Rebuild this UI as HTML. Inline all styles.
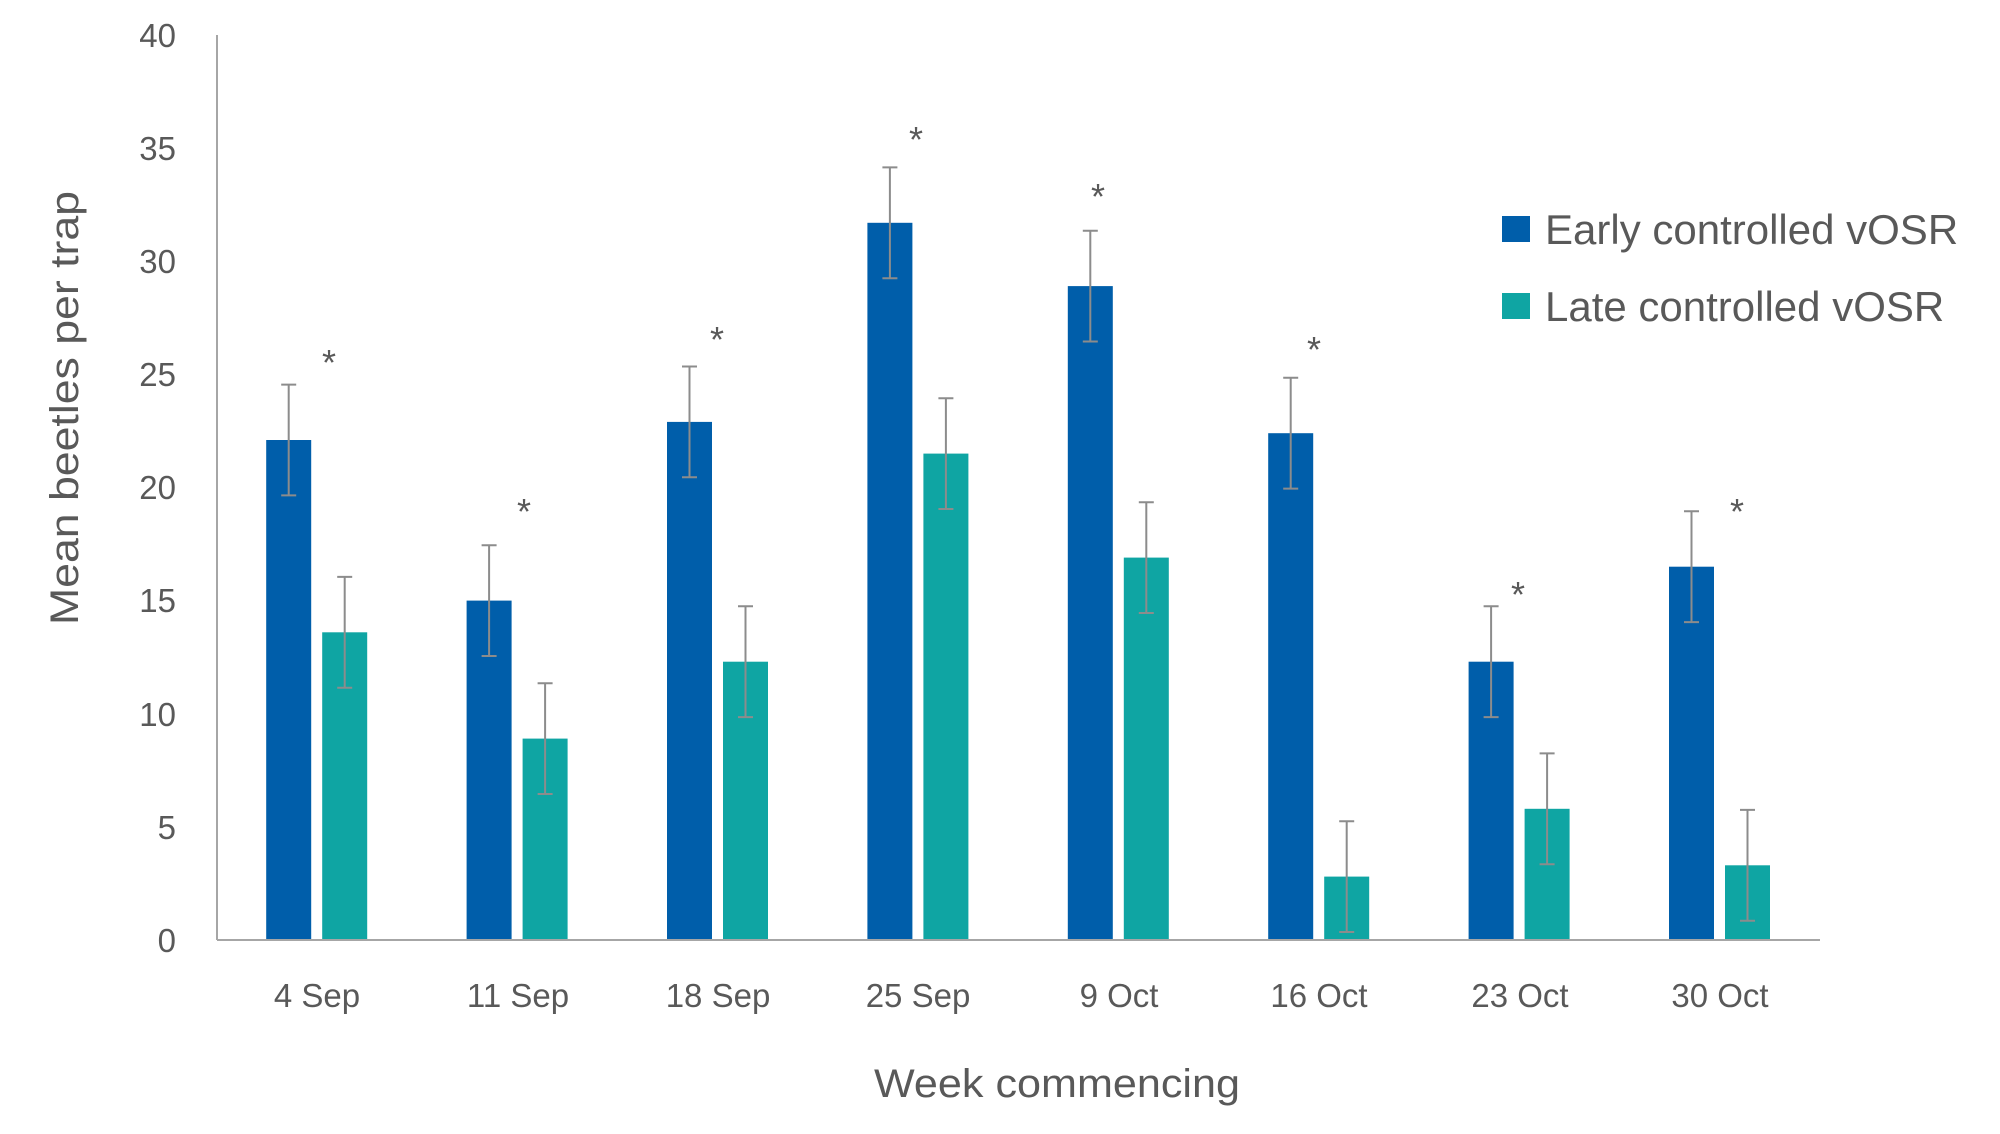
<!DOCTYPE html>
<html><head><meta charset="utf-8"><style>
html,body{margin:0;padding:0;background:#fff}
svg{display:block}
text{font-family:"Liberation Sans",sans-serif;fill:#595959}
</style></head><body>
<svg width="2000" height="1134" viewBox="0 0 2000 1134" xmlns="http://www.w3.org/2000/svg">
<g font-size="33" text-anchor="end">
<text x="176" y="952">0</text>
<text x="176" y="839">5</text>
<text x="176" y="726">10</text>
<text x="176" y="612">15</text>
<text x="176" y="499">20</text>
<text x="176" y="386">25</text>
<text x="176" y="273">30</text>
<text x="176" y="160">35</text>
<text x="176" y="47">40</text>
</g>
<line x1="217" y1="35" x2="217" y2="940" stroke="#a6a6a6" stroke-width="2"/>
<g fill="#005EAA">
<rect x="266.2" y="440.0" width="45" height="500.0"/>
<rect x="466.6" y="600.6" width="45" height="339.4"/>
<rect x="667" y="421.9" width="45" height="518.1"/>
<rect x="867.4" y="222.8" width="45" height="717.2"/>
<rect x="1067.8" y="286.1" width="45" height="653.9"/>
<rect x="1268.2" y="433.2" width="45" height="506.8"/>
<rect x="1468.6" y="661.7" width="45" height="278.3"/>
<rect x="1669" y="566.7" width="45" height="373.3"/>
</g>
<g fill="#0FA5A3">
<rect x="322.2" y="632.3" width="45" height="307.7"/>
<rect x="522.6" y="738.6" width="45" height="201.4"/>
<rect x="723" y="661.7" width="45" height="278.3"/>
<rect x="923.4" y="453.6" width="45" height="486.4"/>
<rect x="1123.8" y="557.6" width="45" height="382.4"/>
<rect x="1324.2" y="876.6" width="45" height="63.4"/>
<rect x="1524.6" y="808.8" width="45" height="131.2"/>
<rect x="1725" y="865.3" width="45" height="74.7"/>
</g>
<line x1="217" y1="940" x2="1820" y2="940" stroke="#a6a6a6" stroke-width="2"/>
<g stroke="#8c8c8c" stroke-width="2" fill="none">
<path d="M288.7 384.6V495.4M281.2 384.6h15M281.2 495.4h15"/>
<path d="M344.7 576.9V687.7M337.2 576.9h15M337.2 687.7h15"/>
<path d="M489.1 545.2V656M481.6 545.2h15M481.6 656h15"/>
<path d="M545.1 683.2V794M537.6 683.2h15M537.6 794h15"/>
<path d="M689.5 366.5V477.3M682 366.5h15M682 477.3h15"/>
<path d="M745.5 606.3V717.1M738 606.3h15M738 717.1h15"/>
<path d="M889.9 167.4V278.2M882.4 167.4h15M882.4 278.2h15"/>
<path d="M945.9 398.2V509M938.4 398.2h15M938.4 509h15"/>
<path d="M1090.3 230.7V341.5M1082.8 230.7h15M1082.8 341.5h15"/>
<path d="M1146.3 502.2V613M1138.8 502.2h15M1138.8 613h15"/>
<path d="M1290.7 377.8V488.6M1283.2 377.8h15M1283.2 488.6h15"/>
<path d="M1346.7 821.2V932M1339.2 821.2h15M1339.2 932h15"/>
<path d="M1491.1 606.3V717.1M1483.6 606.3h15M1483.6 717.1h15"/>
<path d="M1547.1 753.4V864.2M1539.6 753.4h15M1539.6 864.2h15"/>
<path d="M1691.5 511.3V622.1M1684 511.3h15M1684 622.1h15"/>
<path d="M1747.5 809.9V920.7M1740 809.9h15M1740 920.7h15"/>
</g>
<g font-size="36" text-anchor="middle">
<text x="329" y="375">*</text>
<text x="524" y="524">*</text>
<text x="717" y="352">*</text>
<text x="916" y="152">*</text>
<text x="1098" y="209">*</text>
<text x="1314" y="362">*</text>
<text x="1518" y="607">*</text>
<text x="1737" y="524">*</text>
</g>
<g font-size="33" text-anchor="middle">
<text x="317" y="1007">4 Sep</text>
<text x="518" y="1007">11 Sep</text>
<text x="718" y="1007">18 Sep</text>
<text x="918" y="1007">25 Sep</text>
<text x="1119" y="1007">9 Oct</text>
<text x="1319" y="1007">16 Oct</text>
<text x="1520" y="1007">23 Oct</text>
<text x="1720" y="1007">30 Oct</text>
</g>
<text x="874" y="1097" font-size="40" textLength="366" lengthAdjust="spacingAndGlyphs">Week commencing</text>
<text transform="translate(78,625) rotate(-90)" font-size="40" textLength="434" lengthAdjust="spacingAndGlyphs">Mean beetles per trap</text>
<rect x="1502" y="216" width="28" height="26" fill="#005EAA"/>
<rect x="1502" y="293" width="28" height="26" fill="#0FA5A3"/>
<text x="1545" y="244" font-size="42">Early controlled vOSR</text>
<text x="1545" y="321" font-size="42">Late controlled vOSR</text>
</svg>
</body></html>
